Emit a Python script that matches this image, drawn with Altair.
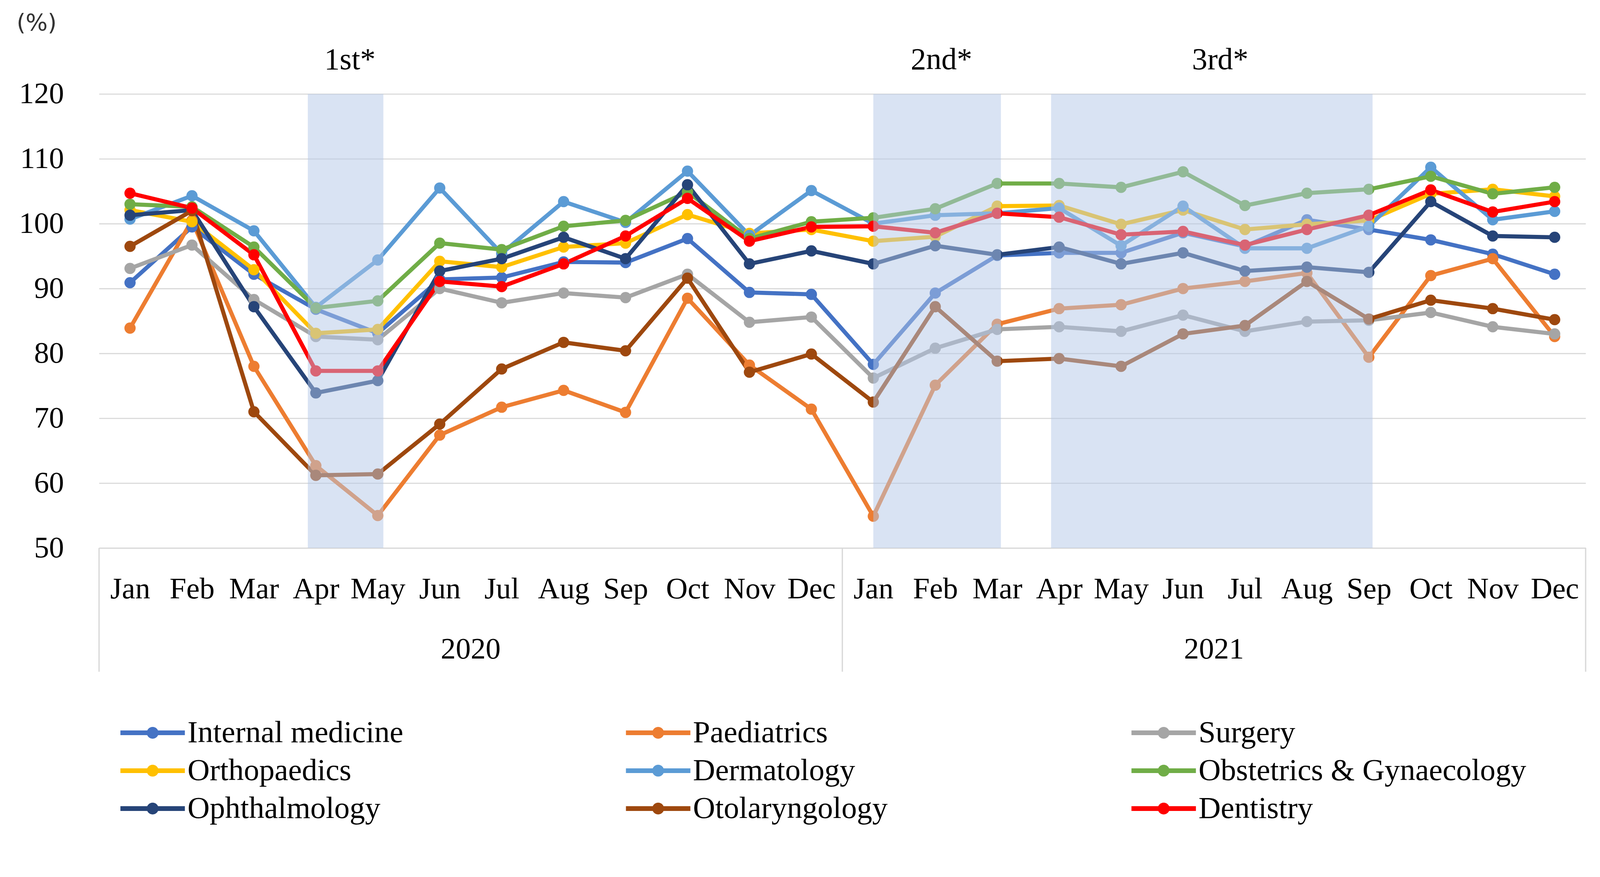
import altair as alt
import pandas as pd

# ---------------- data ----------------
month_names = ["Jan", "Feb", "Mar", "Apr", "May", "Jun", "Jul", "Aug", "Sep", "Oct", "Nov", "Dec"]
year_labels = ["2020", "2021"]

departments = ["Internal medicine", "Paediatrics", "Surgery",
               "Orthopaedics", "Dermatology", "Obstetrics & Gynaecology",
               "Ophthalmology", "Otolaryngology", "Dentistry"]

internal_medicine = [90.9, 99.5, 92.2, 86.8, 83.1, 91.4, 91.7, 94.1, 94.0, 97.7, 89.4, 89.1,
                     78.3, 89.3, 95.1, 95.5, 95.5, 98.6, 96.5, 100.6, 99.1, 97.5, 95.3, 92.2]
paediatrics = [83.9, 100.5, 78.0, 62.7, 55.0, 67.4, 71.7, 74.3, 70.9, 88.5, 78.2, 71.4,
               54.9, 75.1, 84.5, 86.9, 87.5, 90.0, 91.1, 92.4, 79.4, 92.0, 94.6, 82.6]
surgery = [93.1, 96.7, 88.3, 82.6, 82.1, 90.0, 87.8, 89.3, 88.6, 92.2, 84.8, 85.6,
           76.2, 80.8, 83.7, 84.1, 83.4, 85.9, 83.4, 84.9, 85.1, 86.3, 84.1, 83.0]
orthopaedics = [102.1, 100.3, 92.9, 83.1, 83.7, 94.2, 93.3, 96.4, 97.0, 101.4, 98.5, 99.1,
                97.3, 98.0, 102.7, 102.8, 99.9, 102.1, 99.1, 99.9, 100.5, 104.6, 105.3, 104.2]
dermatology = [100.7, 104.3, 98.9, 87.1, 94.4, 105.5, 95.4, 103.4, 100.2, 108.1, 98.2, 105.1,
               100.0, 101.3, 101.6, 102.4, 96.6, 102.7, 96.2, 96.2, 99.6, 108.7, 100.6, 101.9]
obstetrics = [103.0, 102.6, 96.4, 87.0, 88.1, 97.0, 96.0, 99.6, 100.5, 104.9, 97.7, 100.3,
              100.9, 102.3, 106.2, 106.2, 105.6, 108.0, 102.8, 104.7, 105.3, 107.3, 104.6, 105.6]
ophthalmology = [101.3, 102.1, 87.2, 73.9, 75.8, 92.7, 94.6, 97.9, 94.6, 106.0, 93.8, 95.8,
                 93.8, 96.6, 95.2, 96.4, 93.8, 95.5, 92.7, 93.3, 92.5, 103.4, 98.1, 97.9]
otolaryngology = [96.5, 102.0, 71.0, 61.2, 61.4, 69.1, 77.6, 81.7, 80.4, 91.6, 77.1, 79.9,
                  72.5, 87.2, 78.8, 79.2, 78.0, 83.0, 84.3, 91.1, 85.3, 88.2, 86.9, 85.2]
dentistry = [104.7, 102.4, 95.2, 77.3, 77.3, 91.1, 90.3, 93.8, 98.1, 103.9, 97.3, 99.5,
             99.6, 98.6, 101.6, 101.0, 98.3, 98.8, 96.7, 99.1, 101.3, 105.2, 101.8, 103.4]

series = [internal_medicine, paediatrics, surgery, orthopaedics, dermatology,
          obstetrics, ophthalmology, otolaryngology, dentistry]

# waves of infection (shaded periods, in month-index units)
wave_labels = ["1st*", "2nd*", "3rd*"]
wave_start = [2.87, 12.0, 14.87]
wave_end = [4.09, 14.06, 20.06]
wave_label_pos = [3.55, 13.1, 17.6]

# ---------------- styles ----------------
colors = ["#4472C4", "#ED7D31", "#A5A5A5", "#FFC000", "#5B9BD5",
          "#70AD47", "#264478", "#9E480E", "#FF0000"]
marker_sizes = [900, 900, 900, 1600, 900, 900, 900, 900, 900]
FONT = "Liberation Serif"
GRID = "#d9d9d9"

rows = []
for dept, vals in zip(departments, series):
    for i, v in enumerate(vals):
        rows.append({"idx": i, "dept": dept, "value": v})
df = pd.DataFrame(rows)

shade_df = pd.DataFrame({"idx": wave_start, "idx_end": wave_end,
                         "value": [50] * 3, "value_end": [120] * 3})
wave_df = pd.DataFrame({"idx": wave_label_pos, "label": wave_labels})
sep_df = pd.DataFrame({"idx": [-0.5, 11.5, 23.5]})
year_df = pd.DataFrame({"idx": [5.5, 17.5], "label": year_labels})

month_expr = "[" + ",".join("'%s'" % m for m in month_names) + "][datum.value % 12]"

x_enc = alt.X(
    "idx:Q",
    scale=alt.Scale(domain=[-0.5, 23.5], nice=False, zero=False),
    axis=alt.Axis(values=list(range(24)), labelExpr=month_expr, grid=False, ticks=False,
                  tickSize=0, domainColor=GRID, domainWidth=3.5, labelPadding=134,
                  labelBaseline="alphabetic", labelFont=FONT, labelFontSize=80,
                  labelColor="black", labelFlush=False, labelOverlap=False, title=None),
)
y_enc = alt.Y(
    "value:Q",
    scale=alt.Scale(domain=[50, 120], nice=False, zero=False),
    axis=alt.Axis(values=list(range(50, 121, 10)), grid=True, gridColor=GRID, gridWidth=3,
                  ticks=False, tickSize=0, domain=False, labelPadding=94, labelFont=FONT,
                  labelFontSize=80, labelColor="black",
                  title="(%)", titleAngle=0, titleX=-167, titleY=-189, titleAlign="center",
                  titleBaseline="middle", titleFont="DejaVu Sans", titleFontSize=62,
                  titleFontWeight="normal", titleColor="#333333"),
)

color_scale = alt.Scale(domain=departments, range=colors)

legend_path = "M-5.733,-0.42H5.733V0.42H-5.733Z M1.05,0A1.05,1.05,0,1,1,-1.05,0A1.05,1.05,0,1,1,1.05,0Z"
legend = alt.Legend(orient="none", legendX=102, legendY=1663,
                    columns=3, direction="horizontal", gridAlign="all",
                    columnPadding=295, rowPadding=19, padding=0,
                    symbolType=legend_path, symbolSize=900,
                    symbolStrokeWidth=0, symbolOpacity=1,
                    labelFont=FONT, labelFontSize=82, labelColor="black",
                    labelOffset=52, labelLimit=3000, title=None)

lines = alt.Chart(df).mark_line(strokeWidth=11).encode(
    x=x_enc, y=y_enc,
    color=alt.Color("dept:N", scale=color_scale, sort=departments, legend=legend),
)

points = alt.Chart(df).mark_circle(opacity=1).encode(
    x=alt.X("idx:Q"), y=alt.Y("value:Q"),
    color=alt.Color("dept:N", scale=color_scale, sort=departments, legend=legend),
    size=alt.Size("dept:N", scale=alt.Scale(domain=departments, range=marker_sizes),
                  legend=None),
)

shade = alt.Chart(shade_df).mark_rect(color="#b4c7e7", opacity=0.5).encode(
    x=alt.X("idx:Q"), x2="idx_end:Q", y=alt.Y("value:Q"), y2="value_end:Q"
)

wave_text = alt.Chart(wave_df).mark_text(font=FONT, fontSize=82, baseline="alphabetic",
                                         align="center", color="black").encode(
    x=alt.X("idx:Q"), y=alt.value(-66), text="label:N"
)

seps = alt.Chart(sep_df).mark_rule(color=GRID, strokeWidth=3.5).encode(
    x=alt.X("idx:Q"), y=alt.value(1211), y2=alt.value(1541)
)

years = alt.Chart(year_df).mark_text(font=FONT, fontSize=80, baseline="middle",
                                     align="center", color="black").encode(
    x=alt.X("idx:Q"), y=alt.value(1482), text="label:N"
)

chart = alt.layer(lines, points, shade, wave_text, seps, years).properties(
    width=3967, height=1211,
    padding={"left": 256, "top": 195, "right": 30, "bottom": 822},
    autosize=alt.AutoSizeParams(type="none"),
    background="white",
).configure_view(stroke=None)

chart.save("out.html", embed_options={"renderer": "svg", "actions": False})
